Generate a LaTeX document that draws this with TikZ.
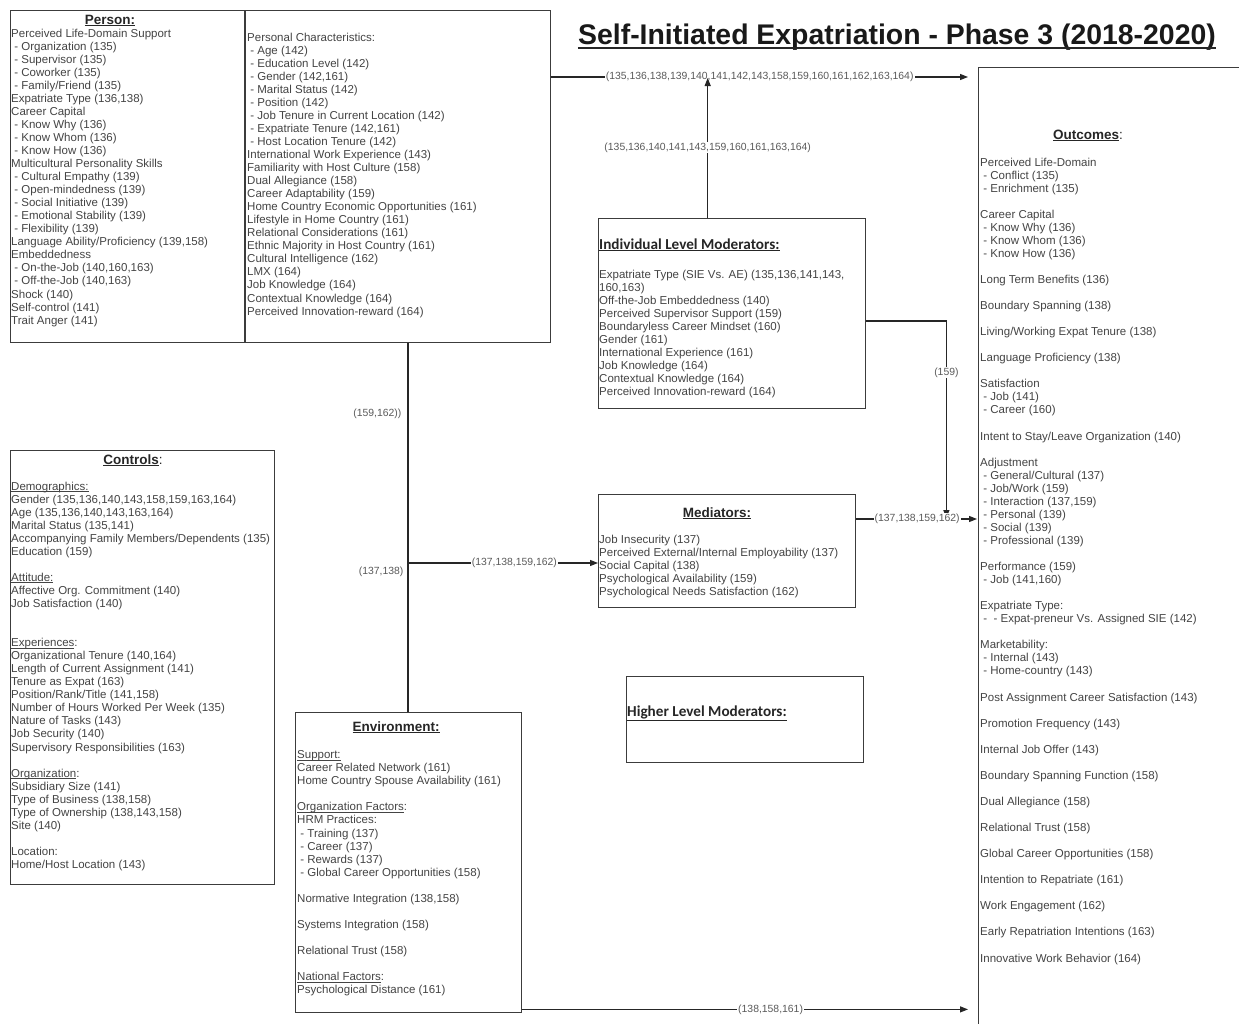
\documentclass[tikz,border=0pt]{standalone}
\usepackage{fontspec}
\setmainfont{Liberation Sans}
\newfontfamily\calibrifont{Carlito}
\usetikzlibrary{arrows.meta}

\definecolor{boxline}{HTML}{3C3C3C}
\definecolor{txtgray}{HTML}{444444}
\definecolor{labgray}{HTML}{5A5A5A}

% underline drawn just below the baseline, through the descenders
\newcommand\subhead[1]{\setbox0\hbox{#1}\rlap{\rule[-1.7pt]{\wd0}{0.6pt}}\box0}

\tikzset{
  box/.style={draw=boxline, line width=1.4pt, inner sep=0pt, anchor=north west},
  body/.style={anchor=north west, inner sep=0pt, align=left, text=txtgray,
    font=\fontsize{11.5}{13.05}\selectfont},
  heading/.style={inner sep=0pt, text=black!85, font=\fontsize{13.5}{15}\selectfont\bfseries},
  calheading/.style={inner sep=0pt, anchor=base west, text=black!85,
    font=\fontsize{15.2}{17}\selectfont\calibrifont\bfseries},
  wire/.style={draw=black!85, line width=1.2pt},
  arrow/.style={wire, -{Triangle[length=8pt,width=6pt]}},
  tag/.style={fill=white, inner sep=1pt, text=labgray, font=\fontsize{10.4}{12}\selectfont},
}

\begin{document}
\begin{tikzpicture}[x=1pt,y=-1pt]
\clip (0,0) rectangle (1239,1023);
\fill[white] (0,0) rectangle (1239,1023);

% ---------- title ----------
\node[inner sep=0pt, anchor=base, text=black!90, font=\fontsize{28.4}{32}\selectfont\bfseries]
  (title) at (897,44) {Self-Initiated Expatriation - Phase 3 (2018-2020)};
\draw[line width=2pt, black!85] ([yshift=-3.5pt]title.base west) -- ([yshift=-3.5pt]title.base east);

% ---------- boxes ----------
\node[box, minimum width=540pt, minimum height=332pt] (person) at (10,10) {};
\draw[draw=boxline, line width=1.4pt] ([xshift=235pt]person.north west) -- ([xshift=235pt]person.south west);
\node[box, minimum width=264pt, minimum height=434pt] (controls) at (10,450) {};
\node[box, minimum width=226pt, minimum height=300pt] (environment) at (295,712) {};
\node[box, minimum width=267pt, minimum height=190pt] (indmod) at (598,218) {};
\node[box, minimum width=257pt, minimum height=113pt] (mediators) at (598,494) {};
\node[box, minimum width=237pt, minimum height=86pt] (highmod) at (626,676) {};
\node[box, minimum width=320pt, minimum height=1000pt] (outcomes) at (978,67) {};

% ---------- person ----------
\node[heading, anchor=base] (personhead) at (110,24) {\underline{Person:}};
\node[body] (personleft) at (11,28.5) {Perceived Life-Domain Support\\
\ - Organization (135)\\
\ - Supervisor (135)\\
\ - Coworker (135)\\
\ - Family/Friend (135)\\
Expatriate Type (136,138)\\
Career Capital\\
\ - Know Why (136)\\
\ - Know Whom (136)\\
\ - Know How (136)\\
Multicultural Personality Skills\\
\ - Cultural Empathy (139)\\
\ - Open-mindedness (139)\\
\ - Social Initiative (139)\\
\ - Emotional Stability (139)\\
\ - Flexibility (139)\\
Language Ability/Proficiency (139,158)\\
Embeddedness\\
\ - On-the-Job (140,160,163)\\
\ - Off-the-Job (140,163)\\
Shock (140)\\
Self-control (141)\\
Trait Anger (141)};
\node[body] (personright) at (247,32.5) {Personal Characteristics:\\
\ - Age (142)\\
\ - Education Level (142)\\
\ - Gender (142,161)\\
\ - Marital Status (142)\\
\ - Position (142)\\
\ - Job Tenure in Current Location (142)\\
\ - Expatriate Tenure (142,161)\\
\ - Host Location Tenure (142)\\
International Work Experience (143)\\
Familiarity with Host Culture (158)\\
Dual Allegiance (158)\\
Career Adaptability (159)\\
Home Country Economic Opportunities (161)\\
Lifestyle in Home Country (161)\\
Relational Considerations (161)\\
Ethnic Majority in Host Country (161)\\
Cultural Intelligence (162)\\
LMX (164)\\
Job Knowledge (164)\\
Contextual Knowledge (164)\\
Perceived Innovation-reward (164)};

% ---------- controls ----------
\node[heading, anchor=base] (controlshead) at (133,464) {\underline{Controls}{\mdseries:}};
\node[body] (controlsbody) at (11,481.5) {\subhead{Demographics:}\\
Gender (135,136,140,143,158,159,163,164)\\
Age (135,136,140,143,163,164)\\
Marital Status (135,141)\\
Accompanying Family Members/Dependents (135)\\
Education (159)\\[13.05pt]
\subhead{Attitude:}\\
Affective Org. Commitment (140)\\
Job Satisfaction (140)\\[26.1pt]
\subhead{Experiences}:\\
Organizational Tenure (140,164)\\
Length of Current Assignment (141)\\
Tenure as Expat (163)\\
Position/Rank/Title (141,158)\\
Number of Hours Worked Per Week (135)\\
Nature of Tasks (143)\\
Job Security (140)\\
Supervisory Responsibilities (163)\\[13.05pt]
\subhead{Organization}:\\
Subsidiary Size (141)\\
Type of Business (138,158)\\
Type of Ownership (138,143,158)\\
Site (140)\\[13.05pt]
Location:\\
Home/Host Location (143)};

% ---------- environment ----------
\node[heading, anchor=base] (envhead) at (396,731) {\underline{Environment:}};
\node[body] (envbody) at (297,750.5) {\subhead{Support:}\\
Career Related Network (161)\\
Home Country Spouse Availability (161)\\[13.05pt]
\subhead{Organization Factors}:\\
HRM Practices:\\
\ - Training (137)\\
\ - Career (137)\\
\ - Rewards (137)\\
\ - Global Career Opportunities (158)\\[13.05pt]
Normative Integration (138,158)\\[13.05pt]
Systems Integration (158)\\[13.05pt]
Relational Trust (158)\\[13.05pt]
\subhead{National Factors}:\\
Psychological Distance (161)};

% ---------- individual level moderators ----------
\node[calheading] (indhead) at (599,249) {\underline{Individual Level Moderators:}};
\node[body] (indbody) at (599,269.5) {Expatriate Type (SIE Vs. AE) (135,136,141,143,\\
160,163)\\
Off-the-Job Embeddedness (140)\\
Perceived Supervisor Support (159)\\
Boundaryless Career Mindset (160)\\
Gender (161)\\
International Experience (161)\\
Job Knowledge (164)\\
Contextual Knowledge (164)\\
Perceived Innovation-reward (164)};

% ---------- mediators ----------
\node[heading, anchor=base] (medhead) at (717,517) {\underline{Mediators:}};
\node[body] (medbody) at (599,534.5) {Job Insecurity (137)\\
Perceived External/Internal Employability (137)\\
Social Capital (138)\\
Psychological Availability (159)\\
Psychological Needs Satisfaction (162)};

% ---------- higher level moderators ----------
\node[calheading] (highhead) at (627,716) {\underline{Higher Level Moderators:}};

% ---------- outcomes ----------
\node[heading, anchor=base] (outhead) at (1088,139) {\underline{Outcomes}{\mdseries:}};
\node[body] (outbody) at (980,157.5) {Perceived Life-Domain\\
\ - Conflict (135)\\
\ - Enrichment (135)\\[13.05pt]
Career Capital\\
\ - Know Why (136)\\
\ - Know Whom (136)\\
\ - Know How (136)\\[13.05pt]
Long Term Benefits (136)\\[13.05pt]
Boundary Spanning (138)\\[13.05pt]
Living/Working Expat Tenure (138)\\[13.05pt]
Language Proficiency (138)\\[13.05pt]
Satisfaction\\
\ - Job (141)\\
\ - Career (160)\\[13.05pt]
Intent to Stay/Leave Organization (140)\\[13.05pt]
Adjustment\\
\ - General/Cultural (137)\\
\ - Job/Work (159)\\
\ - Interaction (137,159)\\
\ - Personal (139)\\
\ - Social (139)\\
\ - Professional (139)\\[13.05pt]
Performance (159)\\
\ - Job (141,160)\\[13.05pt]
Expatriate Type:\\
\ - \ - Expat-preneur Vs. Assigned SIE (142)\\[13.05pt]
Marketability:\\
\ - Internal (143)\\
\ - Home-country (143)\\[13.05pt]
Post Assignment Career Satisfaction (143)\\[13.05pt]
Promotion Frequency (143)\\[13.05pt]
Internal Job Offer (143)\\[13.05pt]
Boundary Spanning Function (158)\\[13.05pt]
Dual Allegiance (158)\\[13.05pt]
Relational Trust (158)\\[13.05pt]
Global Career Opportunities (158)\\[13.05pt]
Intention to Repatriate (161)\\[13.05pt]
Work Engagement (162)\\[13.05pt]
Early Repatriation Intentions (163)\\[13.05pt]
Innovative Work Behavior (164)};

% ---------- connectors ----------
\coordinate (upper) at ([yshift=-67pt]person.north east);
\coordinate (modtop) at ([xshift=-24.5pt]indmod.north);
\coordinate (modside) at ([yshift=-103pt]indmod.north east);
\coordinate (midline) at ([yshift=-25pt]mediators.north east);
\coordinate (pbot) at ([xshift=398pt]person.south west);
\coordinate (medin) at ([yshift=-69pt]mediators.north west);
\coordinate (envout) at ([yshift=4pt]environment.south east);

\draw[arrow] (upper) -- ([xshift=-10pt,yshift=-10pt]outcomes.north west)
  node[tag, midway] {(135,136,138,139,140,141,142,143,158,159,160,161,162,163,164)};
\draw[arrow, shorten >=1pt] (modtop) -- (modtop |- upper)
  node[tag, midway] {(135,136,140,141,143,159,160,161,163,164)};
\draw[arrow, shorten >=1pt] (modside) -| ([xshift=90pt]midline)
  node[tag, pos=0.63] {(159)};
\draw[arrow, shorten >=1pt] (midline) -- (outcomes.west |- midline)
  node[tag, midway] {(137,138,159,162)};
\draw[wire] (pbot) -- (pbot |- environment.north)
  node[tag, fill=none, pos=0.19, left=5pt] {(159,162))}
  node[tag, fill=none, pos=0.62, left=3pt] {(137,138)};
\draw[arrow] (pbot |- medin) -- (medin)
  node[tag, pos=0.56] {(137,138,159,162)};
\draw[arrow] (envout) -- ([xshift=-10pt]outcomes.west |- envout)
  node[tag, pos=0.557] {(138,158,161)};
\end{tikzpicture}
\end{document}
